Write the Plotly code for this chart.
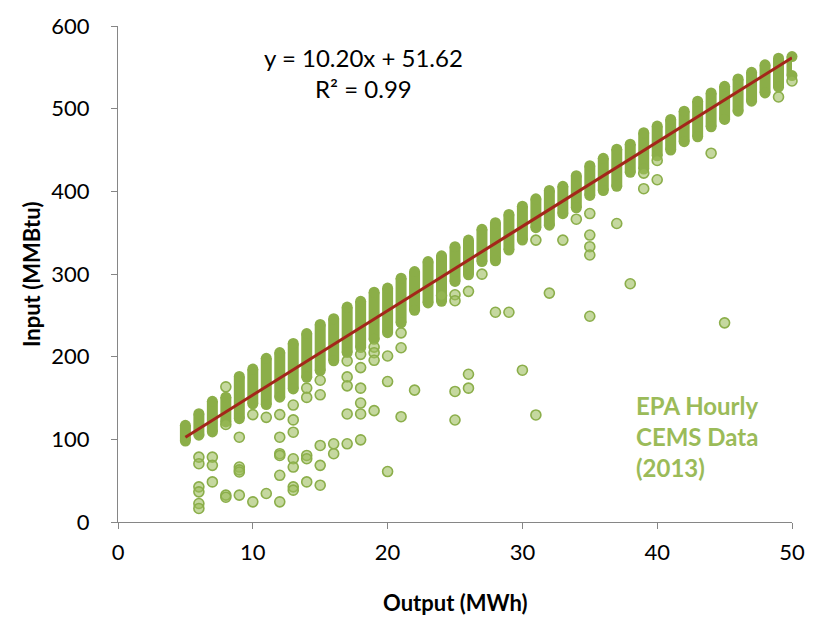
import plotly.graph_objects as go

# Dense hourly columns: for each integer output (MWh), the low and high input (MMBtu) of the packed points
col_x = list(range(5, 51))
col_lo = [98, 105, 109, 121, 125, 143, 142, 151, 161, 175, 183, 195, 205, 211, 221, 229, 241, 256, 265, 267,
          291, 299, 315, 316, 329, 341, 356, 359, 373, 380, 395, 401, 406, 423, 427, 443, 450, 460, 466, 478,
          487, 497, 509, 519, 526, 540]
col_hi = [117, 131, 146, 151, 176, 185, 198, 205, 216, 228, 239, 246, 260, 267, 278, 283, 295, 303, 315, 322,
          333, 341, 354, 362, 372, 382, 391, 401, 406, 419, 431, 440, 451, 457, 471, 479, 487, 497, 509, 519,
          527, 536, 544, 553, 561, 563]

# Scattered (outlying) hours
out_x = [6, 6, 6, 6, 6, 6,
         7, 7, 7,
         8, 8, 8, 8,
         9, 9, 9, 9, 9,
         10, 10,
         11, 11,
         12, 12, 12, 12, 12, 12,
         13, 13, 13, 13, 13, 13, 13,
         14, 14, 14, 14, 14,
         15, 15, 15, 15, 15,
         16, 16,
         17, 17, 17, 17, 17,
         18, 18, 18, 18, 18, 18,
         19, 19, 19, 19,
         20, 20, 20,
         21, 21, 21,
         22,
         24,
         25, 25, 25, 25,
         26, 26, 26,
         27, 28, 29, 30,
         31, 31,
         32, 33, 34,
         35, 35, 35, 35, 35,
         37, 38,
         39, 39,
         40, 40,
         44, 45, 49, 50]
out_y = [78.5, 70.5, 42.5, 36.5, 22.4, 16.4,
         78.5, 68.5, 48.5,
         163.5, 118, 32.5, 30,
         102.6, 66.5, 63, 60.5, 32.5,
         129.9, 24.4,
         126.6, 34.5,
         129.9, 102.6, 82.6, 80.5, 56.5, 24.4,
         141.5, 123.5, 108.6, 76.5, 66.5, 42.5, 38.5,
         162, 150.7, 80.5, 76.5, 48.5,
         171.5, 153.9, 92.6, 68.5, 44.5,
         94.6, 82.6,
         194.8, 175.5, 164.7, 130.7, 94.6,
         202.8, 186.8, 161.9, 143.9, 130.7, 99.4,
         211.6, 204.8, 195.6, 134.7,
         200.8, 169.9, 61,
         228.8, 210.8, 127.4,
         159.5,
         274,
         274.9, 267.7, 157.9, 123.4,
         279, 178.7, 161.9,
         299.8, 253.7, 253.7, 183.6,
         341, 129.5,
         276.9, 341, 366.3,
         373.1, 347.1, 333, 323, 248.9,
         361.1, 288.2,
         422, 403.2,
         437.3, 414,
         446.1, 240.9, 514.2, 533.5]

# Linear trendline
slope = 10.20
intercept = 51.62
trend_x = [5, 50]
trend_y = [slope * v + intercept for v in trend_x]

x_ticks = [0, 10, 20, 30, 40, 50]
y_ticks = [0, 100, 200, 300, 400, 500, 600]

FONT = "Lato, 'Open Sans', sans-serif"
GREEN = "#8BAE48"

cx, cy = [], []
for xv, lo, hi in zip(col_x, col_lo, col_hi):
    cx += [xv, xv, None]
    cy += [lo, hi, None]

fig = go.Figure()
fig.add_trace(go.Scatter(
    x=cx, y=cy, mode="lines+markers", connectgaps=False,
    line=dict(color=GREEN, width=11),
    marker=dict(color=GREEN, size=11, line=dict(width=0)),
    cliponaxis=False, hoverinfo="skip", showlegend=False))
fig.add_trace(go.Scatter(
    x=out_x, y=out_y, mode="markers",
    marker=dict(color="rgba(155,187,89,0.58)", size=10,
                line=dict(color="#8BAE4A", width=1.6)),
    cliponaxis=False, showlegend=False))
fig.add_trace(go.Scatter(
    x=trend_x, y=trend_y, mode="lines",
    line=dict(color="#A3261A", width=3),
    cliponaxis=False, showlegend=False))

axis_common = dict(
    showgrid=False, zeroline=False, showline=True, linecolor="#868686", linewidth=1,
    ticks="outside", ticklen=6, tickcolor="#868686",
    tickfont=dict(family=FONT, size=22, color="#000000"),
)
fig.update_xaxes(range=[0, 50], tickvals=x_ticks, ticklabelstandoff=5, **axis_common)
fig.update_yaxes(range=[0, 600], tickvals=y_ticks, ticklabelstandoff=17, **axis_common)

fig.add_annotation(x=18.2, y=543, xref="x", yref="y",
                   text="y = 10.20x + 51.62<br>R² = 0.99", showarrow=False,
                   font=dict(family=FONT, size=24, color="#000000"), align="center")
fig.add_annotation(x=38.3, y=103, xref="x", yref="y", xanchor="left", yanchor="middle",
                   text="<b>EPA Hourly<br>CEMS Data<br>(2013)</b>", showarrow=False,
                   font=dict(family=FONT, size=24, color="#9BBB59"), align="left")
fig.add_annotation(x=0.5, y=-0.162, xref="paper", yref="paper",
                   xanchor="center", yanchor="middle",
                   text="<b>Output (MWh)</b>", showarrow=False,
                   font=dict(family=FONT, size=22, color="#000000"))
fig.add_annotation(x=-0.129, y=0.5, xref="paper", yref="paper", textangle=-90,
                   xanchor="center", yanchor="middle",
                   text="<b>Input (MMBtu)</b>", showarrow=False,
                   font=dict(family=FONT, size=22, color="#000000"))

fig.update_layout(
    width=817, height=620,
    margin=dict(l=118, r=15, t=21, b=98),
    paper_bgcolor="white", plot_bgcolor="white",
    showlegend=False,
)
fig.write_html("out.html")
